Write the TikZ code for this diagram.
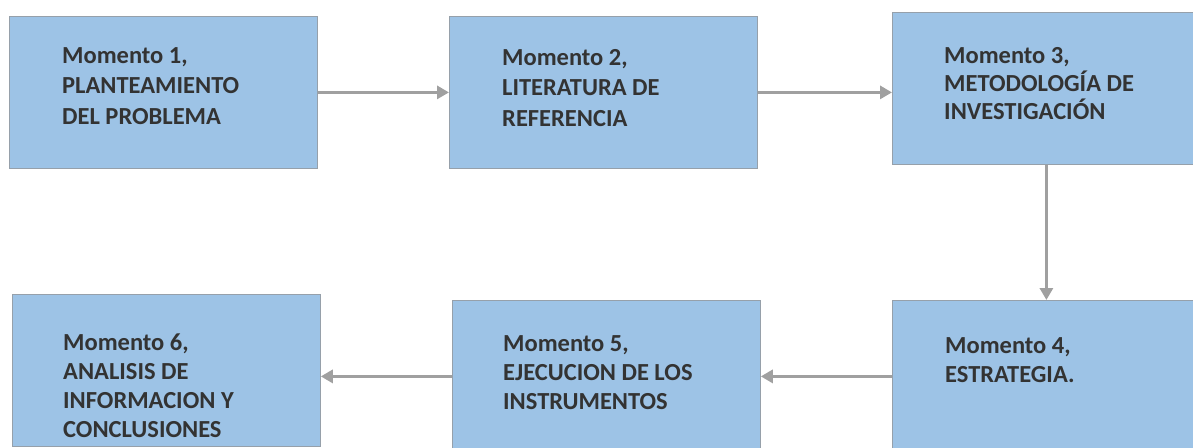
\documentclass[tikz,border=0pt]{standalone}
\usepackage{fontspec}
\setmainfont{Carlito}
\usetikzlibrary{positioning,arrows.meta}
\definecolor{boxblue}{RGB}{157,195,230}
\definecolor{arrowgray}{RGB}{160,160,160}
\definecolor{edgegray}{RGB}{150,160,170}

\begin{document}
\begin{tikzpicture}[x=1pt,y=-1pt,
    momento/.style={draw=edgegray, line width=0.8pt, fill=boxblue, minimum width=308pt,
                    minimum height=152pt, inner sep=0pt, anchor=north west},
    momtext/.style={align=left, font=\fontsize{24.5}{#1}\selectfont\bfseries, inner sep=0pt, text=black!80},
    momtext/.default=30.5,
    flecha/.style={draw=arrowgray, line width=3.5pt, -{Triangle[length=12pt,width=13pt]}}]
            % Frame
            \useasboundingbox (0,0) rectangle (1193,447);
            \clip (0,0) rectangle (1193,447);

            % Boxes
            \node[momento] (m1) at (9,16) {};
            \node[momento] (m2) at (449,16) {};
            \node[momento] (m3) at (892,12) {};
            \node[momento] (m4) at (892,300) {};
            \node[momento] (m5) at (452,300) {};
            \node[momento] (m6) at (12,294) {};

            % Texts
            \node[momtext, below right=31pt and 53pt of m1.north west] (t1) {Momento 1,\\PLANTEAMIENTO\\DEL PROBLEMA};
            \node[momtext, below right=33pt and 53pt of m2.north west] (t2) {Momento 2,\\LITERATURA DE\\REFERENCIA};
            \node[momtext=28, below right=35pt and 52pt of m3.north west] (t3) {Momento 3,\\METODOLOGÍA DE\\INVESTIGACIÓN};
            \node[momtext=29, below right=37pt and 53pt of m4.north west] (t4) {Momento 4,\\ESTRATEGIA.};
            \node[momtext=29, below right=35pt and 51pt of m5.north west] (t5) {Momento 5,\\EJECUCION DE LOS\\INSTRUMENTOS};
            \node[momtext=29, below right=40pt and 51pt of m6.north west] (t6) {Momento 6,\\ANALISIS DE\\INFORMACION Y\\CONCLUSIONES};

            % Arrows
            \draw[flecha] (m1.east) -- (m1.east -| m2.west);
            \draw[flecha] (m2.east) -- (m2.east -| m3.west);
            \draw[flecha] (m3.south) -- (m3.south |- m4.north);
            \draw[flecha] (m4.west) -- (m4.west -| m5.east);
            \draw[flecha] (m5.west) -- (m5.west -| m6.east);
\end{tikzpicture}
\end{document}
